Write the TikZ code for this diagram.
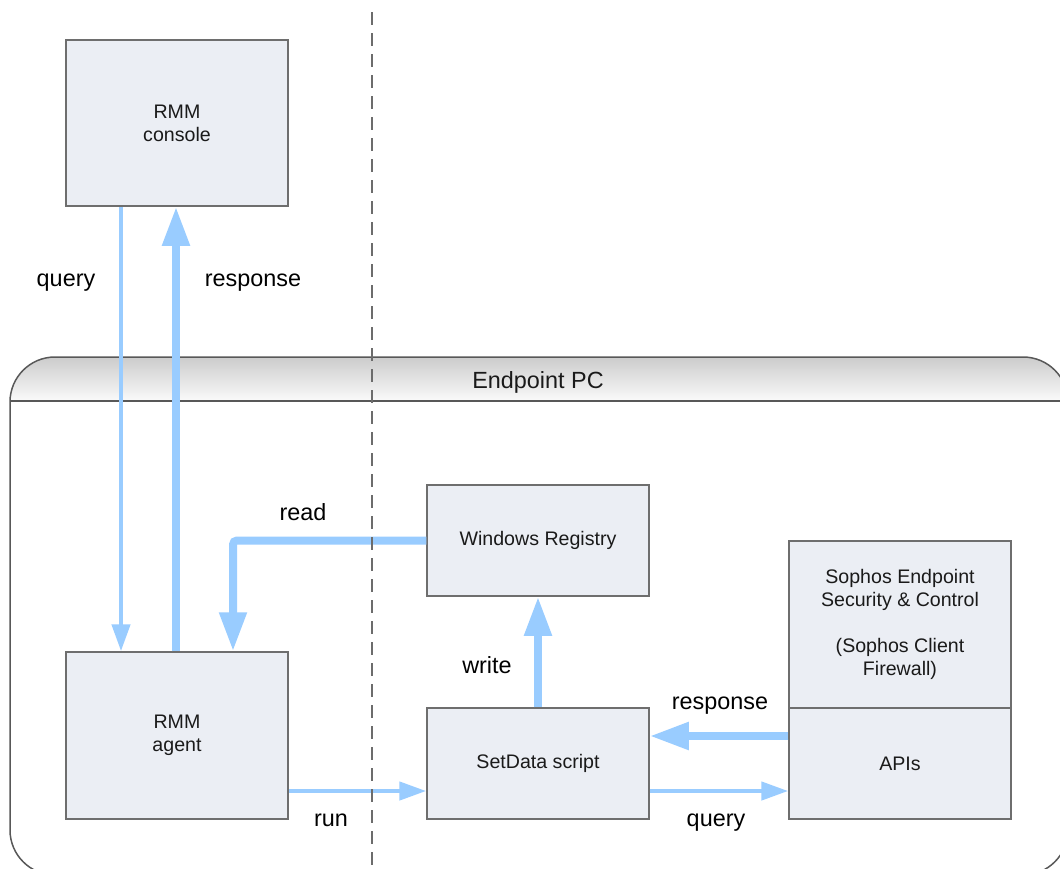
\documentclass[tikz,border=0pt]{standalone}
\usepackage{fontspec}
\setmainfont{Liberation Sans}
\usetikzlibrary{arrows.meta,calc}
\definecolor{boxfill}{HTML}{EBEEF4}
\definecolor{boxline}{HTML}{6E6E6E}
\definecolor{arrowblue}{HTML}{99CCFF}
\definecolor{txt}{HTML}{1A1A1A}
\tikzset{
  box/.style={draw=boxline, line width=1.5pt, fill=boxfill, minimum width=222pt, align=center, inner sep=0pt, text=txt, font=\fontsize{19.6}{23}\selectfont},
  thinarrow/.style={draw=arrowblue, line width=4.5pt, -{Triangle[length=27pt,width=18pt]}},
  thickarrow/.style={draw=arrowblue, line width=8pt, -{Triangle[length=39pt,width=26pt]}},
  lbl/.style={inner sep=0pt, text=black, font=\fontsize{23.4}{28}\selectfont},
  divider/.style={draw=gray!85!black, line width=1.5pt, dash pattern=on 13pt off 8pt}
}
\begin{document}
\begin{tikzpicture}[x=1pt,y=-1pt]
\useasboundingbox (0,0) rectangle (1060,868);
\clip (0,0) rectangle (1060,868);
% Endpoint PC container
\fill[white, rounded corners=45pt] (10,357) rectangle (1068,875);
\begin{scope}
  \clip[rounded corners=45pt] (10,357) rectangle (1068,875);
  \shade[top color=gray!40, bottom color=gray!4] (10,357) rectangle (1068,401);
\end{scope}
\draw[boxline!80!black, line width=1.5pt, rounded corners=45pt] (10,357) rectangle (1068,875);
\draw[boxline!80!black, line width=1.5pt] (10,401) -- (1068,401);
\node[lbl, text=txt] (endpoint) at (538,382) {Endpoint PC};

% boxes
\node[box, minimum height=166pt] (console) at (177,123) {RMM\\console};
\node[box, minimum height=167pt] (agent) at (177,735.5) {RMM\\agent};
\node[box, minimum height=111pt] (registry) at (538,540.5) {Windows Registry};
\node[box, minimum height=111pt] (setdata) at (538,763.5) {SetData script};
\node[box, minimum height=167pt] (sophos) at (900,624.5) {Sophos Endpoint\\Security \& Control\\[23pt](Sophos Client\\Firewall)};
\node[box, minimum height=111pt] (apis) at (900,763.5) {APIs};

% helper coordinates
\coordinate (qx) at (121,0);
\coordinate (rx) at (176,0);
\coordinate (readx) at (233,0);
\coordinate (respy) at (0,736);
\coordinate (queryy) at (0,791);

% connectors
\draw[thinarrow] (console.south -| qx) -- (agent.north -| qx);
\draw[thickarrow] (agent.north -| rx) -- (console.south -| rx);
\draw[thickarrow, rounded corners=4pt] (registry.west) -- (registry.west -| readx) -- (agent.north -| readx);
\draw[thickarrow] (setdata.north) -- (registry.south);
\draw[thickarrow] (apis.west |- respy) -- (setdata.east |- respy);
\draw[thinarrow] (setdata.east |- queryy) -- (apis.west |- queryy);
\draw[thinarrow] (agent.east |- queryy) -- (setdata.west |- queryy);

% divider
\coordinate (divtop) at (372,12);
\coordinate (divbot) at (372,868);
\draw[divider] (divtop) -- (divbot);

% labels
\node[lbl] (lquery) at (66,283) {query};
\node[lbl] (lresp) at (253,283) {response};
\node[lbl] (lread) at (303,512) {read};
\node[lbl] (lwrite) at (487,665) {write};
\node[lbl] (lresp2) at (720,706) {response};
\node[lbl] (lquery2) at (716,823) {query};
\node[lbl] (lrun) at (331,820) {run};
\end{tikzpicture}
\end{document}
